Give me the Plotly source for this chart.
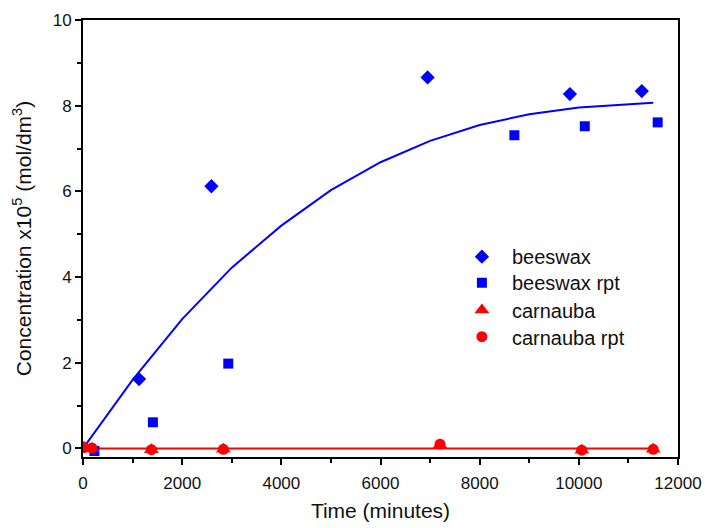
import plotly.graph_objects as go

bw_x = [1130, 2590, 6950, 9820, 11270]
bw_y = [1.62, 6.12, 8.66, 8.27, 8.34]
bwr_x = [230, 1410, 2930, 8700, 10120, 11590]
bwr_y = [-0.06, 0.61, 1.98, 7.31, 7.52, 7.61]
ca_x = [20, 180, 1380, 2830, 7200, 10060, 11500]
ca_y = [0.03, 0.0, -0.03, -0.02, 0.08, -0.04, -0.02]
car_x = [20, 180, 1380, 2830, 7200, 10060, 11500]
car_y = [0.02, 0.01, -0.03, -0.02, 0.1, -0.04, -0.02]
fit_x = [0, 1000, 2000, 3000, 4000, 5000, 6000, 7000, 8000, 9000, 10000, 11000, 11500]
fit_bw = [0.0, 1.6, 3.02, 4.22, 5.2, 6.03, 6.68, 7.18, 7.55, 7.8, 7.96, 8.04, 8.07]
fit_ca = [0.0] * len(fit_x)

FONT = "Liberation Sans, Arial, Helvetica"

fig = go.Figure()
fig.add_trace(go.Scatter(x=fit_x, y=fit_bw, mode="lines", line=dict(color="#0000ff", width=2), showlegend=False))
fig.add_trace(go.Scatter(x=fit_x, y=fit_ca, mode="lines", line=dict(color="#ff0000", width=2), showlegend=False))
fig.add_trace(go.Scatter(x=bw_x, y=bw_y, mode="markers", name="beeswax", legend="legend",
                         marker=dict(symbol="diamond", size=11, color="#0000ff")))
fig.add_trace(go.Scatter(x=bwr_x, y=bwr_y, mode="markers", name="beeswax rpt", legend="legend2",
                         marker=dict(symbol="square", size=10, color="#0000ff")))
fig.add_trace(go.Scatter(x=ca_x, y=ca_y, mode="markers", name="carnauba", legend="legend3",
                         marker=dict(symbol="triangle-up", size=13, color="#ff0000")))
fig.add_trace(go.Scatter(x=car_x, y=car_y, mode="markers", name="carnauba rpt", legend="legend4",
                         marker=dict(symbol="circle", size=11, color="#ff0000")))

axis_common = dict(showline=True, linecolor="black", linewidth=2, mirror=True,
                   ticks="outside", ticklen=6, tickwidth=1.5, tickcolor="black",
                   showgrid=False, zeroline=False, tickformat="d", automargin=False,
                   tickfont=dict(family=FONT, size=17, color="#111"))

leg_common = dict(x=0.62, xanchor="left", yanchor="middle", bgcolor="rgba(0,0,0,0)",
                  font=dict(family=FONT, size=20, color="#111"),
                  itemsizing="trace", itemwidth=50)

fig.update_layout(
    width=705, height=528,
    margin=dict(l=83, r=27, t=20, b=71),
    paper_bgcolor="white", plot_bgcolor="white",
    font=dict(family=FONT, color="#111"),
    xaxis=dict(range=[0, 12000], dtick=2000, tick0=0, ticklabelstandoff=4,
               minor=dict(dtick=1000, ticks="outside", ticklen=4, tickcolor="black", tickwidth=1.5),
               title=dict(text="Time (minutes)", font=dict(size=21), standoff=11),
               **axis_common),
    yaxis=dict(range=[-0.2, 10], dtick=2, tick0=0,
               minor=dict(dtick=1, ticks="outside", ticklen=4, tickcolor="black", tickwidth=1.5),
               title=dict(text="Concentration x10<sup>5</sup> (mol/dm<sup>3</sup>)", font=dict(size=21), standoff=15),
               **axis_common),
    legend=dict(y=0.4584, **leg_common),
    legend2=dict(y=0.3989, **leg_common),
    legend3=dict(y=0.3364, **leg_common),
    legend4=dict(y=0.2753, **leg_common),
)

fig.write_html("out.html")
